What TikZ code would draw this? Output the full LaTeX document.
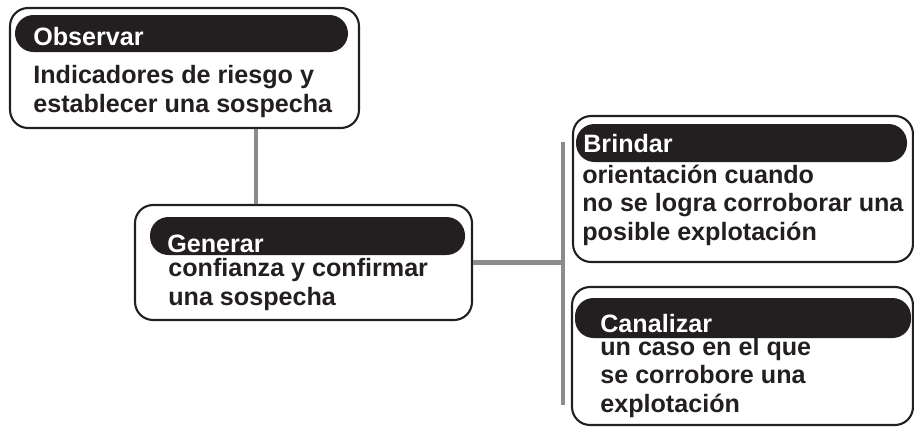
\documentclass[tikz,border=0pt]{standalone}
\usepackage{fontspec}
\setmainfont{Liberation Sans}
\definecolor{ink}{HTML}{231F20}
\definecolor{linkgray}{HTML}{8C8C8C}
\newcommand\cardfont{\bfseries\fontsize{14.3}{16}\selectfont}

\tikzset{
  box/.style={draw=ink, line width=1.2pt, rounded corners=0.36cm, inner sep=0pt},
  pill/.style={fill=ink, rounded corners=0.37cm},
  head/.style={anchor=base west, inner sep=0pt, text=white, font=\cardfont},
  body/.style={anchor=base west, inner sep=0pt, text=ink, align=left, font=\cardfont},
  link/.style={draw=linkgray, line width=2.8pt},
}

\begin{document}
\begin{tikzpicture}[x=0.02cm, y=-0.02cm]

  \useasboundingbox (0,0) rectangle (914,427);

  % --- Define boxes ---
  \node[box, minimum width=6.98cm, minimum height=2.4cm] (obs) at (184.5,68) {};
  \node[box, minimum width=6.74cm, minimum height=2.3cm] (gen) at (303.5,262.5) {};
  \node[box, minimum width=6.8cm, minimum height=2.92cm] (bri) at (743,189) {};
  \node[box, minimum width=6.82cm, minimum height=2.76cm] (can) at (742.5,356) {};

  % --- Black title bars ---
  \fill[pill] (15,15) rectangle (348,52);
  \fill[pill] (150,217) rectangle (465,255);
  \fill[pill] (576,124) rectangle (907,162);
  \fill[pill] (575,298) rectangle (911,338);

  % --- Titles ---
  \node[head] (obshead) at (33,45) {Observar};
  \node[head] (genhead) at (167,252) {Generar};
  \node[head] (brihead) at (583,152) {Brindar};
  \node[head] (canhead) at (600,332) {Canalizar};

  % --- Texts (anchored on their last line) ---
  \node[body] (obstext) at (33,112) {Indicadores de riesgo y\\establecer una sospecha};
  \node[body] (gentext) at (168,305) {confianza y confirmar\\una sospecha};
  \node[body] (britext) at (582,240) {orientación cuando\\no se logra corroborar una\\posible explotación};
  \node[body] (cantext) at (600,412) {un caso en el que\\se corrobore una\\explotación};

  % --- Connectors ---
  \coordinate (stem) at (256,0);
  \coordinate (bartop) at (563,142);
  \coordinate (barbot) at (563,405);
  \draw[link] (obs.south -| stem) -- (gen.north -| stem);
  \draw[link] (gen.east) -- (gen.east -| bartop);
  \draw[link] (bartop) -- (barbot);

\end{tikzpicture}
\end{document}
